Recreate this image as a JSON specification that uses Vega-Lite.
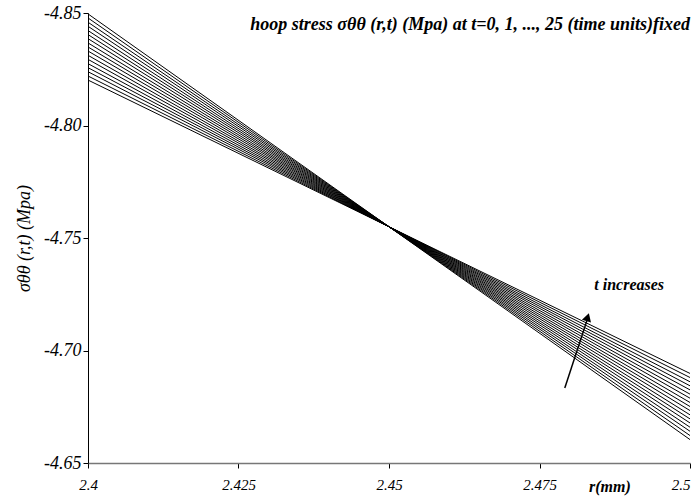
{
  "$schema": "https://vega.github.io/schema/vega-lite/v6.json",
  "width": 602,
  "height": 450,
  "autosize": {"type": "none"},
  "padding": {"left": 88, "top": 13, "right": 3, "bottom": 37},
  "background": "white",
  "config": {"view": {"stroke": null}, "font": "Liberation Serif"},
  "datasets": {
    "lines": [
      {"t": 0, "r": 2.4, "s": -4.8496}, {"t": 0, "r": 2.5, "s": -4.6604},
      {"t": 1, "r": 2.4, "s": -4.8478}, {"t": 1, "r": 2.5, "s": -4.6622},
      {"t": 2, "r": 2.4, "s": -4.8459}, {"t": 2, "r": 2.5, "s": -4.6641},
      {"t": 3, "r": 2.4, "s": -4.8441}, {"t": 3, "r": 2.5, "s": -4.6659},
      {"t": 4, "r": 2.4, "s": -4.8422}, {"t": 4, "r": 2.5, "s": -4.6678},
      {"t": 5, "r": 2.4, "s": -4.8404}, {"t": 5, "r": 2.5, "s": -4.6696},
      {"t": 6, "r": 2.4, "s": -4.8386}, {"t": 6, "r": 2.5, "s": -4.6714},
      {"t": 7, "r": 2.4, "s": -4.8367}, {"t": 7, "r": 2.5, "s": -4.6733},
      {"t": 8, "r": 2.4, "s": -4.8349}, {"t": 8, "r": 2.5, "s": -4.6751},
      {"t": 9, "r": 2.4, "s": -4.8331}, {"t": 9, "r": 2.5, "s": -4.6769},
      {"t": 10, "r": 2.4, "s": -4.8312}, {"t": 10, "r": 2.5, "s": -4.6788},
      {"t": 11, "r": 2.4, "s": -4.8294}, {"t": 11, "r": 2.5, "s": -4.6806},
      {"t": 12, "r": 2.4, "s": -4.8275}, {"t": 12, "r": 2.5, "s": -4.6825},
      {"t": 13, "r": 2.4, "s": -4.8257}, {"t": 13, "r": 2.5, "s": -4.6843},
      {"t": 14, "r": 2.4, "s": -4.8239}, {"t": 14, "r": 2.5, "s": -4.6861},
      {"t": 15, "r": 2.4, "s": -4.822}, {"t": 15, "r": 2.5, "s": -4.688},
      {"t": 16, "r": 2.4, "s": -4.8202}, {"t": 16, "r": 2.5, "s": -4.6898}
    ],
    "labels": [
      {"r": 2.5, "s": -4.8447, "label": "hoop stress σθθ (r,t) (Mpa) at t=0, 1, ..., 25 (time units)fixed", "kind": "title"},
      {"r": 2.4899, "s": -4.7291, "label": "t increases", "kind": "note"},
      {"r": 2.4867, "s": -4.6393, "label": "r(mm)", "kind": "note"}
    ],
    "arrow": [
      {"r": 2.4792, "s": -4.6833, "r2": 2.4829, "s2": -4.7135}
    ],
    "head": [
      {"r": 2.4830, "s": -4.7148}
    ]
  },
  "encoding": {
    "x": {
      "field": "r", "type": "quantitative",
      "scale": {"domain": [2.4, 2.5], "nice": false, "zero": false},
      "axis": {
        "values": [2.4, 2.425, 2.45, 2.475, 2.5],
        "labelExpr": "replace(format(datum.value, '.3f'), /0+$/, '')",
        "title": null,
        "grid": false,
        "labelFont": "Liberation Serif",
        "labelFontStyle": "italic",
        "labelFontSize": 15,
        "labelColor": "black",
        "labelPadding": 9,
        "labelFlush": false,
        "labelAlign": {"condition": {"test": "datum.value >= 2.5", "value": "right"}, "value": "center"},
        "labelOverlap": false,
        "domainColor": "#777777",
        "domainWidth": 1.5,
        "tickColor": "black",
        "tickSize": 5
      }
    },
    "y": {
      "field": "s", "type": "quantitative",
      "scale": {"domain": [-4.85, -4.65], "reverse": true, "nice": false, "zero": false},
      "axis": {
        "values": [-4.85, -4.8, -4.75, -4.7, -4.65],
        "labelExpr": "replace(format(datum.value, '.2f'), '−', '-')",
        "title": "σθθ (r,t) (Mpa)",
        "titleFont": "Liberation Serif",
        "titleFontStyle": "italic",
        "titleFontWeight": "normal",
        "titleFontSize": 18,
        "titleColor": "black",
        "titlePadding": 10,
        "grid": false,
        "labelFont": "Liberation Serif",
        "labelFontStyle": "italic",
        "labelFontSize": 18,
        "labelColor": "black",
        "labelPadding": 2,
        "labelFlush": false,
        "labelOverlap": false,
        "domainColor": "black",
        "tickColor": "black",
        "tickSize": 5
      }
    }
  },
  "layer": [
    {
      "data": {"name": "lines"},
      "mark": {"type": "line", "color": "black", "strokeWidth": 1},
      "encoding": {"detail": {"field": "t", "type": "nominal"}}
    },
    {
      "data": {"name": "labels"},
      "transform": [{"filter": "datum.kind == 'title'"}],
      "mark": {"type": "text", "align": "right", "baseline": "middle", "font": "Liberation Serif", "fontStyle": "italic", "fontWeight": "bold", "fontSize": 18, "color": "black", "clip": false},
      "encoding": {"text": {"field": "label"}}
    },
    {
      "data": {"name": "labels"},
      "transform": [{"filter": "datum.kind == 'note'"}],
      "mark": {"type": "text", "align": "center", "baseline": "middle", "font": "Liberation Serif", "fontStyle": "italic", "fontWeight": "bold", "fontSize": 16, "color": "black", "clip": false},
      "encoding": {"text": {"field": "label"}}
    },
    {
      "data": {"name": "arrow"},
      "mark": {"type": "rule", "color": "black", "strokeWidth": 1.5},
      "encoding": {
        "x2": {"field": "r2"},
        "y2": {"field": "s2"}
      }
    },
    {
      "data": {"name": "head"},
      "mark": {"type": "point", "shape": "triangle-up", "filled": true, "color": "black", "opacity": 1, "size": 90, "angle": 17},
      "encoding": {}
    }
  ]
}
